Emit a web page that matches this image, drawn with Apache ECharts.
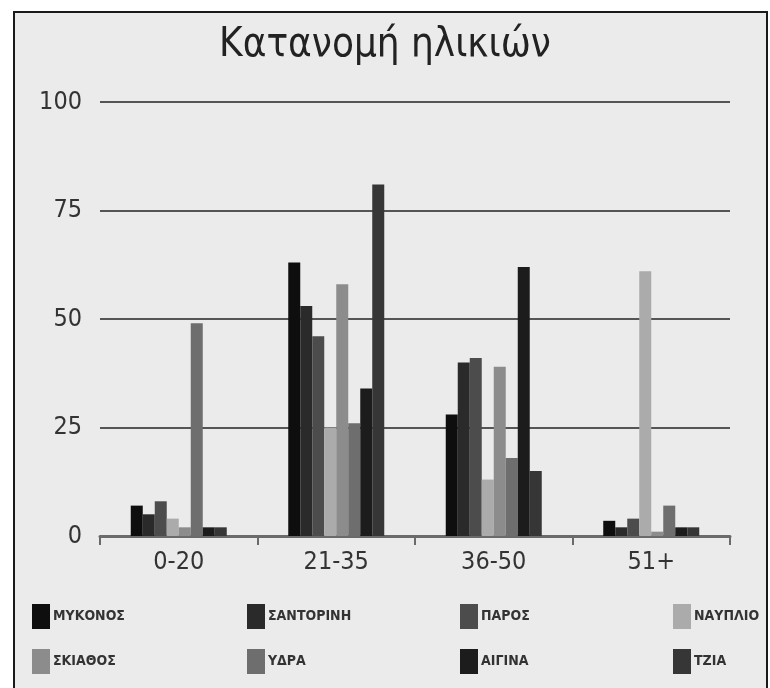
<!DOCTYPE html>
<html>
<head>
<meta charset="utf-8">
<script src="https://cdn.jsdelivr.net/npm/echarts@6/dist/echarts.min.js"></script>
<style>html,body{margin:0;padding:0;background:#fff}#c{width:770px;height:688px}</style>
</head>
<body>
<div id="c"></div>
<script>
const categories = ['0-20', '21-35', '36-50', '51+'];
const yTicks = [0, 25, 50, 75, 100];
const seriesNames = ['ΜΥΚΟΝΟΣ', 'ΣΑΝΤΟΡΙΝΗ', 'ΠΑΡΟΣ', 'ΝΑΥΠΛΙΟ', 'ΣΚΙΑΘΟΣ', 'ΥΔΡΑ', 'ΑΙΓΙΝΑ', 'ΤΖΙΑ'];
const mykonos   = [7, 63, 28, 3.5];
const santorini = [5, 53, 40, 2];
const paros     = [8, 46, 41, 4];
const nafplio   = [4, 25, 13, 61];
const skiathos  = [2, 58, 39, 1];
const ydra      = [49, 26, 18, 7];
const aigina    = [2, 34, 62, 2];
const tzia      = [2, 81, 15, 2];
const seriesValues = [mykonos, santorini, paros, nafplio, skiathos, ydra, aigina, tzia];
const colors = ['#0e0e0e', '#2a2a2a', '#4c4c4c', '#ababab', '#8c8c8c', '#6e6e6e', '#1c1c1c', '#363636'];

const chart = echarts.init(document.getElementById('c'));
const legendCols = [[0, 4], [1, 5], [2, 6], [3, 7]];
const legendLeft = [27, 242, 455, 668];
const legends = legendCols.map((idx, i) => ({
  orient: 'vertical',
  left: legendLeft[i],
  top: 599,
  itemWidth: 18,
  itemHeight: 25,
  itemGap: 20,
  icon: 'rect',
  selectedMode: false,
  data: idx.map(k => seriesNames[k]),
  textStyle: { fontFamily: 'DejaVu Sans Condensed', fontWeight: 'bold', fontSize: 14, color: '#333', padding: [0, 0, 0, -2] }
}));

chart.setOption({
  backgroundColor: '#ffffff',
  animation: false,
  graphic: [{
    type: 'rect', z: -100, silent: true,
    shape: { x: 14, y: 12, width: 753, height: 700 },
    style: { fill: '#ebebeb', stroke: '#1a1a1a', lineWidth: 2 }
  }],
  title: {
    text: 'Κατανομή ηλικιών',
    left: 'center',
    top: 21,
    textStyle: { fontFamily: 'DejaVu Sans Condensed', fontWeight: 'normal', fontSize: 40, color: '#222' }
  },
  legend: legends,
  grid: { left: 100, right: 40, top: 102, bottom: 152 },
  xAxis: {
    type: 'category',
    data: categories,
    axisLine: { lineStyle: { color: '#6a6a6a', width: 3 } },
    axisTick: { show: true, length: 9, lineStyle: { color: '#6a6a6a', width: 2 } },
    axisLabel: { fontFamily: 'DejaVu Sans Condensed', fontSize: 25, color: '#333', margin: 14 }
  },
  yAxis: {
    type: 'value',
    min: yTicks[0],
    max: yTicks[yTicks.length - 1],
    interval: 25,
    axisLine: { show: false },
    axisTick: { show: false },
    splitLine: { lineStyle: { color: '#555', width: 2 } },
    axisLabel: { fontFamily: 'DejaVu Sans Condensed', fontSize: 25, color: '#333', margin: 18 }
  },
  series: seriesNames.map((name, i) => ({
    name: name,
    type: 'bar',
    data: seriesValues[i],
    barWidth: 12,
    barGap: '0%',
    itemStyle: { color: colors[i] }
  }))
});
</script>
</body>
</html>
